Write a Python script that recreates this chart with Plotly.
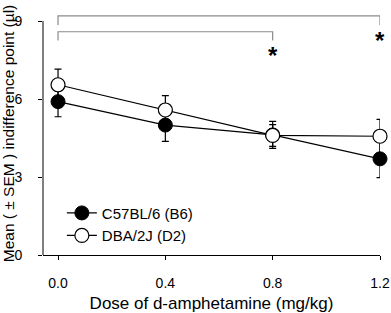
import plotly.graph_objects as go

doses = [0.0, 0.4, 0.8, 1.2]
b6_mean = [5.9, 5.0, 4.62, 3.7]
b6_sem = [0.58, 0.63, 0.52, 0.72]
d2_mean = [6.55, 5.58, 4.6, 4.57]
d2_sem = [0.6, 0.55, 0.42, 0.65]
tick_y = [0, 3, 6, 9]

# significance brackets (x, y in data units)
br1_x = [0.0, 0.0, 1.2, 1.2]
br1_y = [8.85, 9.2, 9.2, 8.85]
br2_x = [0.0, 0.0, 0.8, 0.8]
br2_y = [8.25, 8.59, 8.59, 8.25]
star_x = [0.8, 1.2]
star_y = [7.88, 8.46]

FONT = "Liberation Sans, Arial, sans-serif"

fig = go.Figure()
for x, y in [(br1_x, br1_y), (br2_x, br2_y)]:
    fig.add_trace(go.Scatter(x=x, y=y, mode="lines", line=dict(color="#8a8a8a", width=1.2),
                             showlegend=False, cliponaxis=False, hoverinfo="skip"))

fig.add_trace(go.Scatter(
    x=doses, y=b6_mean, name="C57BL/6 (B6)", mode="lines+markers",
    line=dict(color="black", width=1.2),
    marker=dict(symbol="circle", size=14, color="black", line=dict(color="black", width=1)),
    error_y=dict(type="data", array=b6_sem, color="black", thickness=1.2, width=3.5),
    cliponaxis=False))
fig.add_trace(go.Scatter(
    x=doses, y=d2_mean, name="DBA/2J (D2)", mode="lines+markers",
    line=dict(color="black", width=1.2),
    marker=dict(symbol="circle", size=14, color="white", line=dict(color="black", width=1.2)),
    error_y=dict(type="data", array=d2_sem, color="black", thickness=1.2, width=3.5),
    cliponaxis=False))

for sx, sy in zip(star_x, star_y):
    fig.add_annotation(x=sx, y=sy, text="<b>*</b>", showarrow=False,
                       font=dict(family=FONT, size=24, color="black"),
                       xanchor="center", yanchor="middle", yshift=-5)

# y axis line drawn only over the tick range
fig.add_shape(type="line", xref="paper", x0=0, x1=0, yref="y", y0=tick_y[0], y1=tick_y[-1],
              line=dict(color="black", width=1))

fig.update_layout(
    width=391, height=313,
    margin=dict(l=43, r=11, t=12, b=58),
    paper_bgcolor="white", plot_bgcolor="white",
    font=dict(family=FONT, size=14, color="black"),
    xaxis=dict(range=[-0.056, 1.2], tickvals=doses, ticktext=["0.0", "0.4", "0.8", "1.2"],
               showline=True, linecolor="black", linewidth=1, ticks="outside", ticklen=4,
               tickcolor="black", showgrid=False, zeroline=False, ticklabelstandoff=11,
               tickfont=dict(size=14), automargin=False,
               title=dict(text="Dose of d-amphetamine (mg/kg)", font=dict(size=17), standoff=11)),
    yaxis=dict(range=[0, 9.35], tickvals=tick_y, showline=False,
               ticks="outside", ticklen=4, tickcolor="black", showgrid=False, zeroline=False,
               ticklabelstandoff=13, tickfont=dict(size=14), automargin=False,
               title=dict(text="Mean ( ± SEM ) indifference point (µl)", font=dict(size=15.5), standoff=4)),
    legend=dict(x=0.056, y=0.24, xanchor="left", yanchor="top", bgcolor="rgba(0,0,0,0)",
                font=dict(size=15), itemwidth=30, tracegroupgap=0),
    showlegend=True,
)
fig.write_html("out.html", config={"displayModeBar": False},
               post_script="document.body.style.margin='0';document.body.style.padding='0';document.body.style.overflow='hidden';")
